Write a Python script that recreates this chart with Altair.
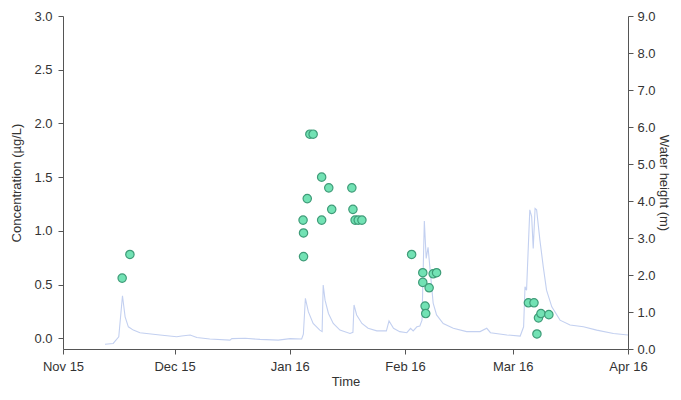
import altair as alt
import pandas as pd

# Concentration samples (left axis)
sample_times = [
    "2015-11-16T22:00", "2015-11-19T00:00",
    "2016-01-04T14:00", "2016-01-04T17:00", "2016-01-04T17:00", "2016-01-05T17:00",
    "2016-01-06T10:00", "2016-01-07T07:00", "2016-01-09T14:00", "2016-01-09T14:00",
    "2016-01-11T12:00", "2016-01-12T07:00", "2016-01-17T17:00", "2016-01-18T00:00",
    "2016-01-18T14:00", "2016-01-19T10:00", "2016-01-20T10:00",
    "2016-02-02T19:00", "2016-02-05T19:00", "2016-02-05T19:00", "2016-02-06T10:00",
    "2016-02-06T14:00", "2016-02-07T12:00", "2016-02-08T14:00", "2016-02-09T12:00",
    "2016-03-05T05:00", "2016-03-06T17:00", "2016-03-07T12:00", "2016-03-07T22:00",
    "2016-03-08T14:00", "2016-03-10T17:00",
]
concentration = [
    0.56, 0.78,
    1.10, 0.98, 0.76, 1.30,
    1.90, 1.90, 1.50, 1.10,
    1.40, 1.20, 1.40, 1.20,
    1.10, 1.10, 1.10,
    0.78, 0.61, 0.52, 0.30,
    0.23, 0.47, 0.60, 0.61,
    0.33, 0.33, 0.04, 0.19,
    0.23, 0.22,
]

# Water height series (right axis)
level_times = [
    "2015-11-12T07:00", "2015-11-14T12:00", "2015-11-16T00:00", "2015-11-17T00:00",
    "2015-11-17T17:00", "2015-11-18T14:00", "2015-11-19T22:00", "2015-11-21T17:00",
    "2015-11-27T02:00", "2015-12-01T14:00", "2015-12-02T22:00", "2015-12-05T05:00",
    "2015-12-07T00:00", "2015-12-10T12:00", "2015-12-15T22:00", "2015-12-16T10:00",
    "2015-12-20T00:00", "2015-12-24T00:00", "2015-12-28T22:00", "2016-01-01T02:00",
    "2016-01-04T05:00", "2016-01-04T16:00", "2016-01-05T05:00", "2016-01-06T00:00",
    "2016-01-07T07:00", "2016-01-09T02:00", "2016-01-09T17:00", "2016-01-10T00:00",
    "2016-01-10T12:00", "2016-01-11T10:00", "2016-01-12T17:00", "2016-01-14T12:00",
    "2016-01-17T05:00", "2016-01-18T00:00", "2016-01-18T07:00", "2016-01-19T00:00",
    "2016-01-20T10:00", "2016-01-22T02:00", "2016-01-24T10:00", "2016-01-27T00:00",
    "2016-01-27T17:00", "2016-01-28T22:00", "2016-01-30T14:00", "2016-02-01T12:00",
    "2016-02-02T12:00", "2016-02-03T05:00", "2016-02-04T05:00", "2016-02-05T00:00",
    "2016-02-05T14:00", "2016-02-06T05:00", "2016-02-06T17:00", "2016-02-07T05:00",
    "2016-02-07T17:00", "2016-02-08T14:00", "2016-02-09T12:00", "2016-02-11T07:00",
    "2016-02-14T00:00", "2016-02-17T14:00", "2016-02-21T05:00", "2016-02-23T00:00",
    "2016-02-24T00:00", "2016-02-28T10:00", "2016-03-03T00:00", "2016-03-03T22:00",
    "2016-03-04T07:00", "2016-03-04T17:00", "2016-03-05T14:00", "2016-03-06T02:00",
    "2016-03-06T12:00", "2016-03-07T00:00", "2016-03-07T10:00", "2016-03-08T07:00",
    "2016-03-09T05:00", "2016-03-10T02:00", "2016-03-11T12:00", "2016-03-13T17:00",
    "2016-03-16T10:00", "2016-03-20T00:00", "2016-03-23T14:00", "2016-03-28T02:00",
    "2016-04-01T00:00",
]
water_height = [
    0.13, 0.15, 0.33, 1.44,
    0.87, 0.60, 0.51, 0.44,
    0.38, 0.33, 0.35, 0.38,
    0.31, 0.27, 0.24, 0.28,
    0.29, 0.26, 0.24, 0.28,
    0.27, 0.40, 1.37, 1.01,
    0.69, 0.51, 0.47, 1.73,
    1.32, 0.96, 0.69, 0.51,
    0.42, 0.45, 1.19, 0.92,
    0.69, 0.56, 0.49, 0.49,
    0.76, 0.56, 0.47, 0.44,
    0.56, 0.49, 0.60, 0.62,
    0.78, 3.46, 2.45, 2.75,
    2.20, 1.24, 0.92, 0.69,
    0.56, 0.47, 0.47, 0.56,
    0.44, 0.38, 0.35, 0.60,
    1.68, 1.59, 3.76, 3.58,
    2.72, 3.80, 3.76, 2.95,
    2.22, 1.59, 1.14, 0.78,
    0.65, 0.60, 0.51, 0.42,
    0.38,
]

month_ticks = ["2015-11-01T00:00", "2015-12-01T00:00", "2016-01-01T00:00",
               "2016-02-01T00:00", "2016-03-01T00:00", "2016-04-01T00:00"]
left_ticks = [0.0, 0.5, 1.0, 1.5, 2.0, 2.5, 3.0]
right_ticks = [0, 1, 2, 3, 4, 5, 6, 7, 8, 9]

samples = pd.DataFrame({"time": sample_times, "conc": concentration})
levels = pd.DataFrame({"time": level_times, "height": water_height})

FONT = "Liberation Sans"
TXT = "#333333"

x_scale = alt.Scale(domain=[alt.DateTime(year=2015, month=11, date=1),
                            alt.DateTime(year=2016, month=4, date=1)], nice=False)
x_axis = alt.Axis(title="Time", format="%b %y", labelFlush=False,
                  values=[alt.DateTime(year=int(t[:4]), month=int(t[5:7]), date=1) for t in month_ticks],
                  grid=False, domainColor="#555555", tickColor="#555555",
                  labelPadding=6, titlePadding=2)

line = alt.Chart(levels).mark_line(color="#c3d0f0", strokeWidth=1.1, interpolate="linear").encode(
    x=alt.X("time:T", scale=x_scale, axis=x_axis),
    y=alt.Y("height:Q", scale=alt.Scale(domain=[0, 9], nice=False),
            axis=alt.Axis(orient="right", title="Water height (m)", values=right_ticks,
                          format=".1f", grid=False, domainColor="#555555", tickColor="#555555",
                          labelPadding=4, titlePadding=1)),
)

points = alt.Chart(samples).mark_point(
    filled=True, shape="circle", size=70, fill="#72e2b4", stroke="#3e9c78",
    strokeWidth=1.2, opacity=1
).encode(
    x=alt.X("time:T", scale=x_scale, axis=x_axis),
    y=alt.Y("conc:Q", scale=alt.Scale(domain=[-0.1, 3.0], nice=False, zero=False),
            axis=alt.Axis(orient="left", title="Concentration (µg/L)", values=left_ticks,
                          format=".1f", grid=False, domainColor="#555555", tickColor="#555555",
                          labelPadding=6, titlePadding=10)),
)

chart = alt.layer(line, points).resolve_scale(y="independent").properties(
    width=565, height=333,
    autosize=alt.AutoSizeParams(type="none"),
    padding={"left": 55, "top": 8, "right": 45, "bottom": 43},
).configure_view(stroke=None).configure_axis(
    labelFont=FONT, titleFont=FONT, labelFontSize=13, titleFontSize=13,
    labelColor=TXT, titleColor=TXT, titleFontWeight="normal", tickSize=5,
)

chart.save("out.html", embed_options={"renderer": "svg", "actions": False})
